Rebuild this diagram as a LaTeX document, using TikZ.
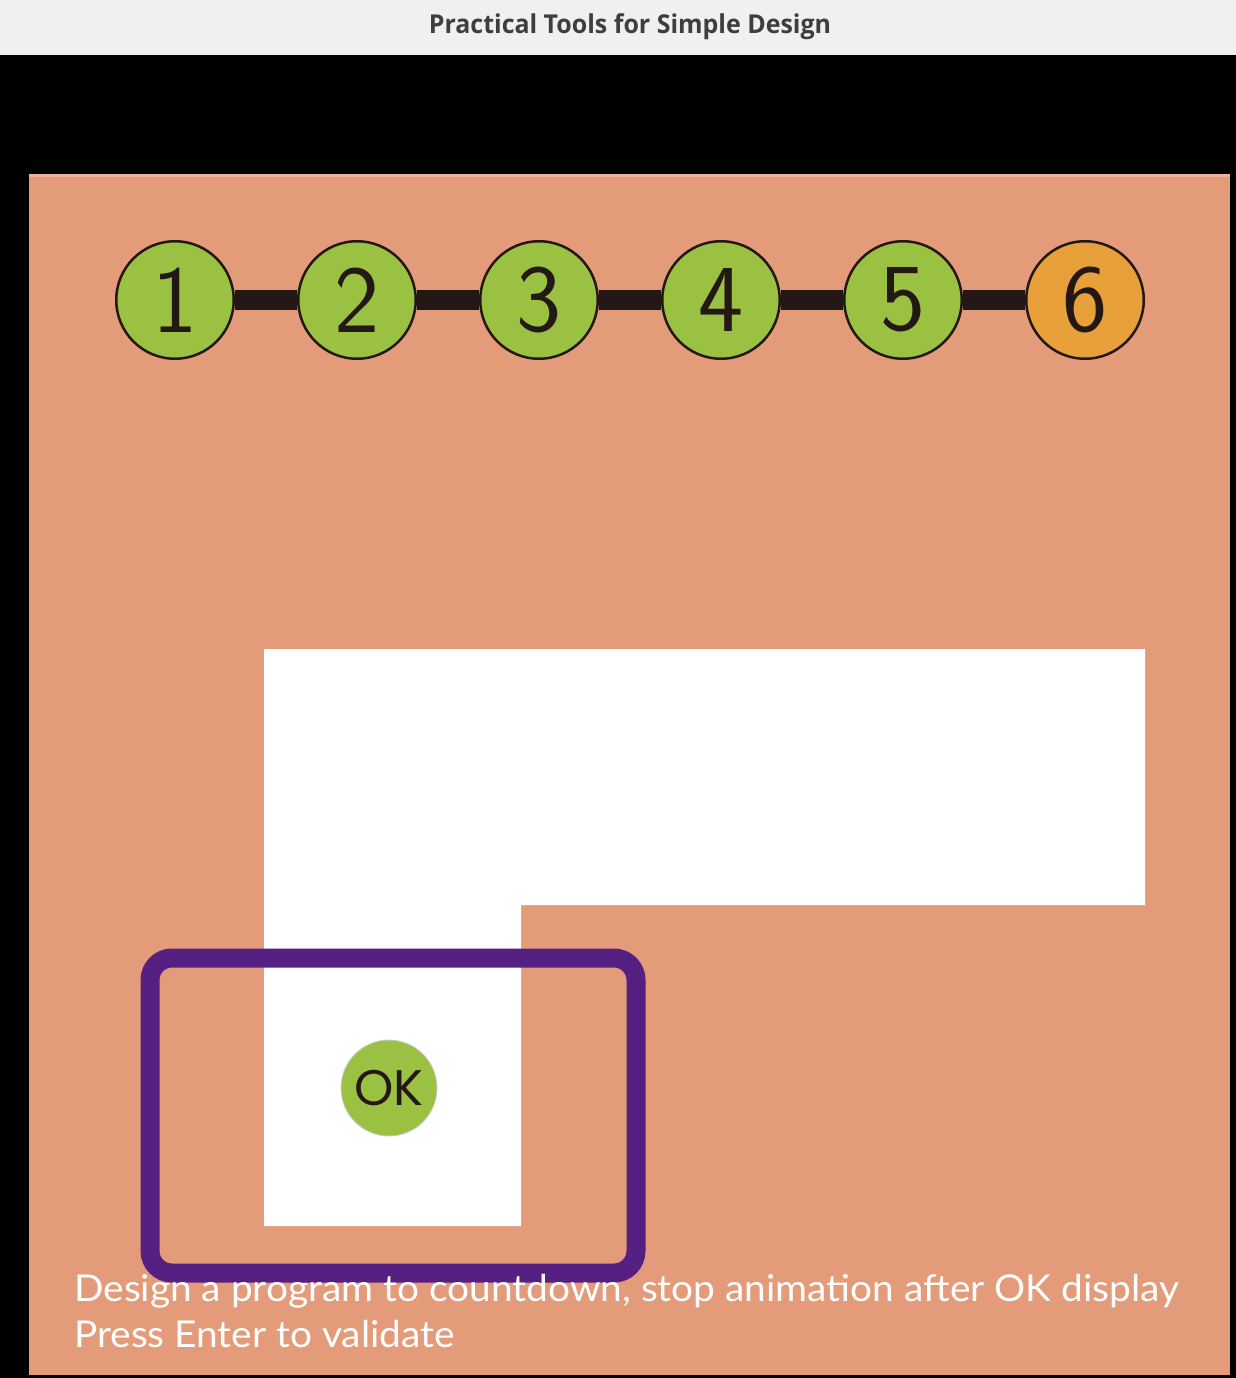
\documentclass[tikz,border=0pt]{standalone}
\usepackage{fontspec}
\newfontfamily\titlefont[FakeStretch=0.96]{Open Sans}
\newfontfamily\okfont{Poppins}
\newfontfamily\notefont[FakeStretch=1.05]{Lato}
\definecolor{titlebar}{RGB}{240,240,240}
\definecolor{titlegrey}{RGB}{62,62,62}
\definecolor{panel}{RGB}{227,155,122}
\definecolor{paneledge}{RGB}{238,180,152}
\definecolor{stepgreen}{RGB}{155,193,67}
\definecolor{steporange}{RGB}{231,160,58}
\definecolor{bar}{RGB}{35,24,21}
\definecolor{frame}{RGB}{86,31,130}

\begin{document}
\begin{tikzpicture}[x=1pt, y=-1pt,
    stepnode/.style={circle, draw=bar, line width=2.5pt, minimum size=117.5pt, inner sep=0pt, text=bar, font=\sffamily\fontsize{96}{96}\selectfont},
    barline/.style={draw=bar, line width=20pt},
    note/.style={anchor=base west, text=white, inner sep=0pt, font=\notefont\fontsize{37}{37}\selectfont}]
    \useasboundingbox (0,0) rectangle (1236,1378);
    % window
    \fill[black] (0,0) rectangle (1236,1378);
    \fill[titlebar] (0,0) rectangle (1236,55);
    \node[text=titlegrey, font=\titlefont\bfseries\fontsize{26}{26}\selectfont] (title) at (630,27) {Practical Tools for Simple Design};
    \fill[panel] (29,174) rectangle (1230,1375);
    \draw[paneledge, line width=3pt] (29,175.5) -- (1230,175.5);
    % steps
    \foreach \n/\col in {1/stepgreen, 2/stepgreen, 3/stepgreen, 4/stepgreen, 5/stepgreen, 6/steporange}
        \node[stepnode, fill=\col] (s\n) at ({175+(\n-1)*182}, 300) {\n};
    \foreach \a/\b in {1/2, 2/3, 3/4, 4/5, 5/6}
        \draw[barline] (s\a) -- (s\b);
    % white shape
    \fill[white] (264,649) -- (1145,649) -- (1145,905) -- (521,905) -- (521,1226) -- (264,1226) -- cycle;
    \node[circle, fill=stepgreen, draw=black!20, line width=0.8pt, minimum size=96pt, inner sep=0pt, text=bar, font=\okfont\fontsize{50}{50}\selectfont] (ok) at (389,1088) {OK};
    % frame
    \draw[frame, line width=19pt, rounded corners=22pt] (150,958) rectangle (636,1273);
    % notes
    \node[note] (note1) at (74,1301) {Design a program to countdown, stop animation after OK display};
    \node[note] (note2) at (74,1347) {Press Enter to validate};
\end{tikzpicture}
\end{document}
